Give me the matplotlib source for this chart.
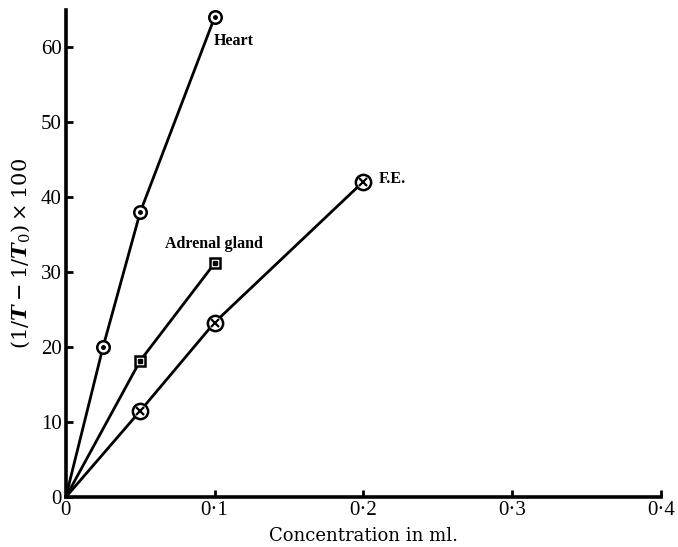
import matplotlib
matplotlib.use('Agg')
import matplotlib.pyplot as plt

plt.rcParams['font.family'] = ['Liberation Serif', 'DejaVu Serif']
plt.rcParams['mathtext.fontset'] = 'custom'
plt.rcParams['mathtext.rm'] = 'DejaVu Serif'
plt.rcParams['mathtext.it'] = 'DejaVu Serif:italic:bold'
plt.rcParams['mathtext.bf'] = 'DejaVu Serif:bold'

# 데이터
heart_x = [0, 0.025, 0.05, 0.1]
heart_y = [0, 20, 38, 64]
adrenal_x = [0, 0.05, 0.1]
adrenal_y = [0, 18.2, 31.2]
fe_x = [0, 0.05, 0.1, 0.2]
fe_y = [0, 11.5, 23.3, 42.1]

xticks = [0, 0.1, 0.2, 0.3, 0.4]
xtick_labels = ['0', '0\u00b71', '0\u00b72', '0\u00b73', '0\u00b74']
yticks = [0, 10, 20, 30, 40, 50, 60]

fig = plt.figure(figsize=(6.78, 5.47), dpi=100)
ax = fig.add_axes([0.097, 0.091, 0.878, 0.891])

lw = 2.0
# 선 (원점 포함, 원점에는 마커 없음)
ax.plot(heart_x, heart_y, '-', color='black', lw=lw)
ax.plot(adrenal_x, adrenal_y, '-', color='black', lw=lw)
ax.plot(fe_x, fe_y, '-', color='black', lw=lw)

# 마커
ax.plot(heart_x[1:], heart_y[1:], 'o', ms=9, mfc='white', mec='black', mew=1.8)
ax.plot(heart_x[1:], heart_y[1:], 'o', ms=2.5, color='black')
ax.plot(adrenal_x[1:], adrenal_y[1:], 's', ms=7.5, mfc='white', mec='black', mew=1.8)
ax.plot(adrenal_x[1:], adrenal_y[1:], 's', ms=2.2, color='black')
ax.plot(fe_x[1:], fe_y[1:], 'o', ms=11, mfc='white', mec='black', mew=1.8)
ax.plot(fe_x[1:], fe_y[1:], 'x', ms=6, color='black', mew=1.6)

# 라벨
ax.text(0.0993, 60.8, 'Heart', fontsize=11.5, fontweight='bold', va='center', ha='left')
ax.text(0.067, 33.8, 'Adrenal gland', fontsize=11.5, fontweight='bold', va='center', ha='left')
ax.text(0.210, 42.4, 'F.E.', fontsize=11.5, fontweight='bold', va='center', ha='left')

ax.set_xlim(0, 0.4)
ax.set_ylim(0, 65)
ax.set_xticks(xticks)
ax.set_xticklabels(xtick_labels)
ax.set_yticks(yticks)
ax.tick_params(direction='in', length=5, width=2, labelsize=15, pad=3)

for s in ['top', 'right']:
    ax.spines[s].set_visible(False)
for s in ['left', 'bottom']:
    ax.spines[s].set_linewidth(2.6)

ax.set_xlabel('Concentration in ml.', fontsize=13, family='DejaVu Serif', labelpad=5)
ax.set_ylabel(r'$(1/T - 1/T_0) \times 100$', fontsize=15, labelpad=6)

fig.savefig('out.png', dpi=100)
